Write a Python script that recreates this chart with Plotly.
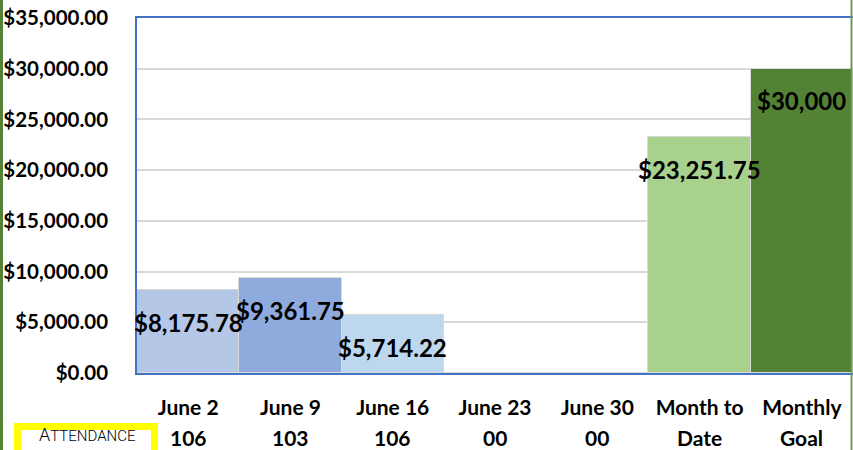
import plotly.graph_objects as go

categories = ["June 2", "June 9", "June 16", "June 23", "June 30", "Month to Date", "Monthly Goal"]
tick_line1 = ["June 2", "June 9", "June 16", "June 23", "June 30", "Month to", "Monthly"]
tick_line2 = ["106", "103", "106", "00", "00", "Date", "Goal"]
values = [8175.78, 9361.75, 5714.22, 0, 0, 23251.75, 30000]
label_decimals = [2, 2, 2, None, None, 2, 0]
bar_colors = ["#B4C7E7", "#8FAADC", "#BDD7EE", "#BDD7EE", "#BDD7EE", "#A9D18E", "#548235"]
y_ticks = [0, 5000, 10000, 15000, 20000, 25000, 30000, 35000]

W, H = 853, 450
L, R, T, B = 137, 0, 18, 77
pw, ph = W - L - R, H - T - B

def px2x(px):
    return (px - L) / pw

def px2y(py):
    return (H - B - py) / ph

FONT = "Lato"

fig = go.Figure()
fig.add_trace(go.Bar(
    x=categories, y=values,
    marker=dict(color=bar_colors, line=dict(color="#D9D9D9", width=1)),
    hoverinfo="skip",
))

annotations = []
for c, v, d in zip(categories, values, label_decimals):
    if d is None:
        continue
    annotations.append(dict(
        x=c, y=v, xref="x", yref="y", text=f"${v:,.{d}f}", showarrow=False,
        yanchor="middle", yshift=-32,
        font=dict(family=FONT, size=24, color="black", weight="bold"),
    ))
for c, t in zip(categories, tick_line2):
    annotations.append(dict(
        x=c, y=0, xref="x", yref="paper", text=t, showarrow=False,
        yanchor="middle", yshift=-64,
        font=dict(family=FONT, size=21, color="black", weight="bold"),
    ))
annotations.append(dict(
    x=px2x(87), y=px2y(434), xref="paper", yref="paper",
    text="A<span style='font-size:15px'>TTENDANCE</span>", showarrow=False,
    xanchor="center", yanchor="middle",
    font=dict(family="Roboto", size=18, color="black", weight=300),
))

shapes = [
    dict(type="rect", xref="paper", yref="paper",
         x0=px2x(17.5), x1=px2x(154.5), y0=px2y(426.5), y1=px2y(470),
         line=dict(color="#FFFF00", width=7), fillcolor="white"),
    dict(type="line", xref="paper", yref="paper",
         x0=px2x(1.5), x1=px2x(1.5), y0=px2y(-5), y1=px2y(460),
         line=dict(color="#548235", width=3)),
    dict(type="line", xref="paper", yref="paper",
         x0=px2x(851.5), x1=px2x(851.5), y0=px2y(-5), y1=px2y(460),
         line=dict(color="#6E9B4E", width=2)),
]

fig.update_layout(
    width=W, height=H,
    margin=dict(l=L, r=R, t=T, b=B, pad=0),
    paper_bgcolor="white", plot_bgcolor="white",
    bargap=0, showlegend=False,
    annotations=annotations, shapes=shapes,
    xaxis=dict(
        tickmode="array", tickvals=categories, ticktext=tick_line1,
        tickfont=dict(family=FONT, size=21, color="black", weight="bold"),
        showline=True, mirror=True, linecolor="#4472C4", linewidth=1.5,
        showgrid=False, ticks="", layer="below traces", ticklabelstandoff=15,
        range=[-0.5, 6.5],
    ),
    yaxis=dict(
        range=[0, 35000], tickvals=y_ticks,
        ticktext=[f"${v:,.2f}" for v in y_ticks],
        tickfont=dict(family=FONT, size=20.5, color="black", weight="bold"),
        showline=True, mirror=False, linecolor="#4472C4", linewidth=1.5,
        gridcolor="#D9D9D9", gridwidth=1.5, zeroline=False,
        ticks="", layer="below traces", ticklabelstandoff=23,
    ),
)

fig.write_html("out.html")
